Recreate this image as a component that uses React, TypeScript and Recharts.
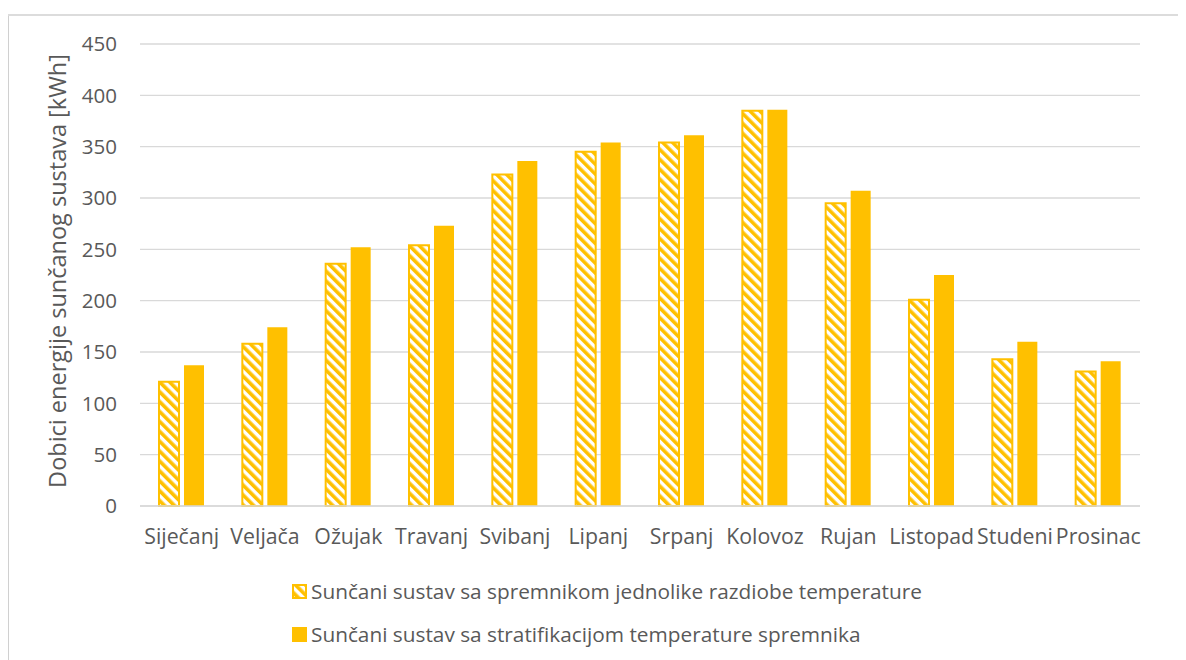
import React from 'react';
import { BarChart, Bar, XAxis, YAxis, CartesianGrid, Legend } from 'recharts';

const months = ['Siječanj', 'Veljača', 'Ožujak', 'Travanj', 'Svibanj', 'Lipanj', 'Srpanj', 'Kolovoz', 'Rujan', 'Listopad', 'Studeni', 'Prosinac'];
const uniform = [121, 158, 236, 254, 323, 345, 354, 385, 295, 201, 143, 131];
const stratified = [137, 174, 252, 273, 336, 354, 361, 386, 307, 225, 160, 141];
const yTicks = [0, 50, 100, 150, 200, 250, 300, 350, 400, 450];

const seriesNames = [
  'Sunčani sustav sa spremnikom jednolike razdiobe temperature',
  'Sunčani sustav sa stratifikacijom temperature spremnika',
];

const data = months.map((m, i) => ({ name: m, uniform: uniform[i], stratified: stratified[i] }));

const ORANGE = '#FFC000';
const TEXT = '#595959';
const FONT = '"Open Sans", sans-serif';

const LegendContent = () => (
  <div style={{ position: 'relative', height: 124, fontFamily: FONT, fontSize: 20.8, color: TEXT }}>
    {seriesNames.map((n, i) => (
      <div key={n} style={{ position: 'absolute', left: 284, top: 55 + i * 43 - 15, display: 'flex', alignItems: 'center', height: 30 }}>
        <svg width={15} height={15} style={{ marginRight: 4 }}>
          {i === 0 ? (
            <rect x={1} y={1} width={13} height={13} fill="url(#hatch)" stroke={ORANGE} strokeWidth={2} />
          ) : (
            <rect x={0} y={0} width={15} height={15} fill={ORANGE} />
          )}
        </svg>
        <span style={{ whiteSpace: 'nowrap' }}>{n}</span>
      </div>
    ))}
  </div>
);

const YLabel = () => (
  <text x={49} y={256} transform="rotate(-90 49 256)" textAnchor="middle" dominantBaseline="central" fill={TEXT} fontSize={23.5} fontFamily={FONT}>
    Dobici energije sunčanog sustava [kWh]
  </text>
);

export default function App() {
  return (
    <div style={{ position: 'relative', marginTop: 6, width: 1178, height: 646, background: '#fff' }}>
      <div style={{ position: 'absolute', left: -1, top: 0, width: 2, height: 646, background: '#d0d0d0' }} />
      <div style={{ position: 'absolute', left: -1, top: 0, width: 1179, height: 2, background: '#dcdcdc' }} />
      <div style={{ position: 'absolute', left: 0, top: 1 }}>
        <BarChart width={1178} height={645} data={data} margin={{ top: 29, right: 46, left: 0, bottom: 0 }} barGap={5} barSize={20}>
          <defs>
            <pattern id="hatch" patternUnits="userSpaceOnUse" width={7} height={7} patternTransform="rotate(-45)">
              <rect x={0} y={0} width={7} height={7} fill="#fff" />
              <rect x={0} y={0} width={3.6} height={7} fill={ORANGE} />
            </pattern>
          </defs>
          <CartesianGrid vertical={false} stroke="#d9d9d9" strokeWidth={1.3} />
          <XAxis dataKey="name" axisLine={{ stroke: '#d9d9d9', strokeWidth: 1.3 }} tickLine={false} tickMargin={17} interval={0}
            tick={{ fill: TEXT, fontSize: 21.3, fontFamily: FONT }} />
          <YAxis width={132} domain={[0, 450]} ticks={yTicks} axisLine={false} tickLine={false} tickSize={0} tickMargin={23}
            tick={{ fill: TEXT, fontSize: 20.5, fontFamily: FONT }} />
          <Legend verticalAlign="bottom" content={<LegendContent />} wrapperStyle={{ left: 0, width: 1178, height: 124 }} />
          <Bar dataKey="uniform" fill="url(#hatch)" stroke={ORANGE} strokeWidth={2} isAnimationActive={false} />
          <Bar dataKey="stratified" fill={ORANGE} isAnimationActive={false} />
          <YLabel />
        </BarChart>
      </div>
    </div>
  );
}
